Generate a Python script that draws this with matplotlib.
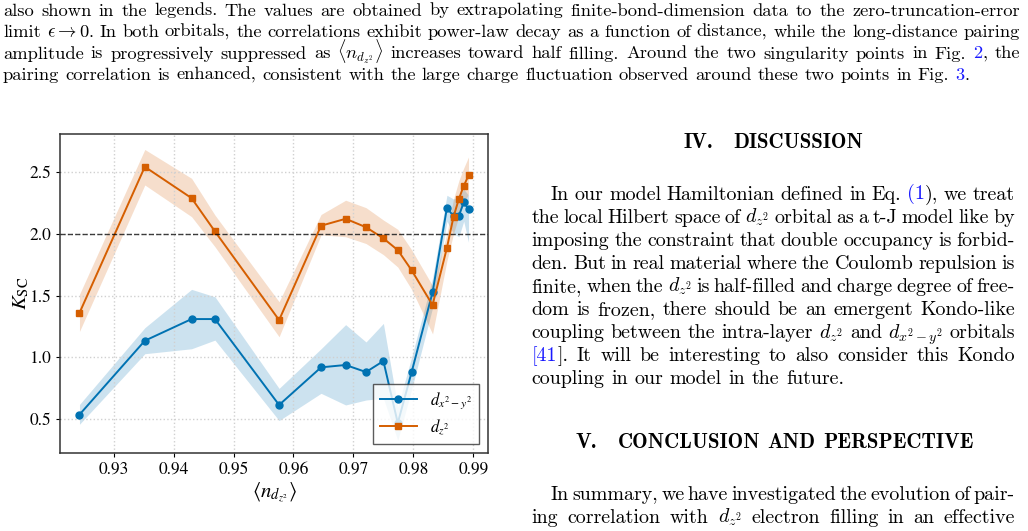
import numpy as np
import matplotlib
matplotlib.use("Agg")
import matplotlib.pyplot as plt

# filling <n_dz2> (shared by both orbitals)
n_dz2 = [0.9243, 0.9352, 0.9430, 0.9469, 0.9576, 0.9646, 0.9687, 0.9721, 0.9750,
         0.9774, 0.9797, 0.9832, 0.9856, 0.9867, 0.9876, 0.9884, 0.9892]

# d_{x2-y2}
k_dx = [0.538, 1.135, 1.310, 1.310, 0.616, 0.920, 0.939, 0.882, 0.971,
        0.470, 0.880, 1.526, 2.209, 2.140, 2.145, 2.253, 2.199]
k_dx_lo = [0.46, 1.03, 1.07, 1.14, 0.49, 0.71, 0.616, 0.656, 0.67,
           0.33, 0.74, 1.40, 2.10, 2.00, 1.975, 2.10, 1.93]
k_dx_hi = [0.62, 1.24, 1.55, 1.49, 0.75, 1.07, 1.265, 1.125, 1.275,
           0.60, 1.00, 1.64, 2.31, 2.28, 2.30, 2.36, 2.31]

# d_{z2}
k_dz = [1.360, 2.540, 2.287, 2.018, 1.302, 2.064, 2.120, 2.052, 1.962,
        1.867, 1.705, 1.423, 1.886, 2.137, 2.282, 2.385, 2.470]
k_dz_lo = [1.21, 2.393, 2.137, 1.894, 1.167, 1.99, 1.975, 1.92, 1.83,
           1.73, 1.55, 1.19, 1.78, 2.00, 2.14, 2.25, 2.32]
k_dz_hi = [1.51, 2.68, 2.447, 2.15, 1.45, 2.155, 2.27, 2.21, 2.11,
           2.035, 1.87, 1.58, 2.00, 2.28, 2.43, 2.53, 2.62]

BLUE = "#0072B2"
ORANGE = "#D55E00"
LINK = "#1a1aff"

plt.rcParams["font.family"] = "STIXGeneral"
plt.rcParams["mathtext.fontset"] = "stix"

W, H = 1028, 531
fig = plt.figure(figsize=(W / 100, H / 100), dpi=100)
ax = fig.add_axes([60 / W, (H - 453) / H, 428 / W, 319 / H])

ax.fill_between(n_dz2, k_dx_lo, k_dx_hi, color=BLUE, alpha=0.2, lw=0)
ax.plot(n_dz2, k_dx, "-o", color=BLUE, ms=5, lw=1.4, label=r"$d_{x^2-y^2}$")
ax.fill_between(n_dz2, k_dz_lo, k_dz_hi, color=ORANGE, alpha=0.2, lw=0)
ax.plot(n_dz2, k_dz, "-s", color=ORANGE, ms=5, lw=1.4, label=r"$d_{z^2}$")
ax.axhline(2.0, color="k", ls="--", lw=1.0, alpha=0.75)

ax.set_xlim(0.92105, 0.99245)
ax.set_ylim(0.228, 2.805)
ax.set_xticks([0.93, 0.94, 0.95, 0.96, 0.97, 0.98, 0.99])
ax.set_yticks([0.5, 1.0, 1.5, 2.0, 2.5])
ax.tick_params(labelsize=12.5, length=3, width=0.8)
ax.grid(True, ls=":", color="#d0d0d0", lw=1.0)
for s in ax.spines.values():
    s.set_color("#333333")
    s.set_linewidth(1.1)
ax.set_xlabel(r"$\langle n_{d_{z^2}}\rangle$", fontsize=15)
ax.set_ylabel(r"$K_{\rm SC}$", fontsize=15)
ax.xaxis.set_label_coords(0.5, -0.085)
ax.yaxis.set_label_coords(-0.067, 0.5)
leg = ax.legend(loc="lower right", fontsize=12, fancybox=False, framealpha=0.8,
                edgecolor="#333333", borderaxespad=0.55, handlelength=2.2,
                labelspacing=0.4)
leg.get_frame().set_linewidth(1.0)

# ---- surrounding page text ----
renderer = fig.canvas.get_renderer()


def put_line(y, x0, x1, words, size, justify=True, family="cmr10"):
    """Place one line of words with baseline at pixel y, spanning x0..x1."""
    groups = []
    total = 0.0
    for w in words:
        pieces = w if isinstance(w, list) else [(w, "k")]
        grp = []
        for txt, col in pieces:
            t = fig.text(0, 1 - y / H, txt, color=col, fontsize=size, family=family,
                         math_fontfamily="cm", va="baseline", ha="left")
            wpx = t.get_window_extent(renderer).width
            grp.append((t, wpx))
            total += wpx
        groups.append(grp)
    if justify and len(groups) > 1:
        gap = (x1 - x0 - total) / (len(groups) - 1)
    else:
        gap = 0.333 * size * 100 / 72
    x = x0
    for grp in groups:
        for t, wpx in grp:
            t.set_x(x / W)
            x += wpx
        x += gap


def tokens(line):
    out = []
    for w in line.split():
        if "@" in w:
            a, b, c = w.split("@")
            pieces = [(p, col) for p, col in ((a, "k"), (b, LINK), (c, "k")) if p]
            out.append(pieces)
        else:
            out.append(w)
    return out


FS = 14.4
FS_CAP = 13.3
dz = r"$d_{z^2}$"

top = [
    ("also shown in the legends. The values are obtained by extrapolating "
     "finite-bond-dimension data to the zero-truncation-error", True),
    (r"limit $\epsilon\to0$. In both orbitals, the correlations exhibit power-law decay "
     "as a function of distance, while the long-distance pairing", True),
    (r"amplitude is progressively suppressed as $\langle{n_{d_{z^2}}}\rangle$ increases "
     "toward half filling. Around the two singularity points in Fig. @2@, the", True),
    ("pairing correlation is enhanced, consistent with the large charge fluctuation "
     "observed around these two points in Fig. @3@.", False),
]
for i, (line, just) in enumerate(top):
    put_line(15.5 + 21.5 * i, 3, 1020, tokens(line), FS_CAP, justify=just)

# right column
put_line(148.5, 684, 863, ["IV.", "DISCUSSION"], 15, family="cmb10")

para = [
    ("In our model Hamiltonian defined in Eq. @(1@), we treat", True),
    ("the local Hilbert space of " + dz + " orbital as a t-J model like by", True),
    ("imposing the constraint that double occupancy is forbid-", True),
    ("den. But in real material where the Coulomb repulsion is", True),
    ("finite, when the " + dz + " is half-filled and charge degree of free-", True),
    ("dom is frozen, there should be an emergent Kondo-like", True),
    ("coupling between the intra-layer " + dz + r" and $d_{x^2-y^2}$ orbitals", True),
    ("@[41@]. It will be interesting to also consider this Kondo", True),
    ("coupling in our model in the future.", False),
]
for i, (line, just) in enumerate(para):
    x0 = 550.7 if i == 0 else 531.7
    put_line(199.5 + 23.1 * i, x0, 1015, tokens(line), FS, justify=just)

put_line(448.5, 575, 600, ["V."], 15, justify=False, family="cmb10")
put_line(448.5, 617.7, 973.3, ["CONCLUSION", "AND", "PERSPECTIVE"], 15, family="cmb10")

concl = [
    ("In summary, we have investigated the evolution of pair-", True),
    ("ing correlation with " + dz + " electron filling in an effective", True),
]
for i, (line, just) in enumerate(concl):
    x0 = 550.7 if i == 0 else 531.7
    put_line(500 + 22.7 * i, x0, 1015, tokens(line), FS, justify=just)

fig.savefig("out.png", dpi=100)
